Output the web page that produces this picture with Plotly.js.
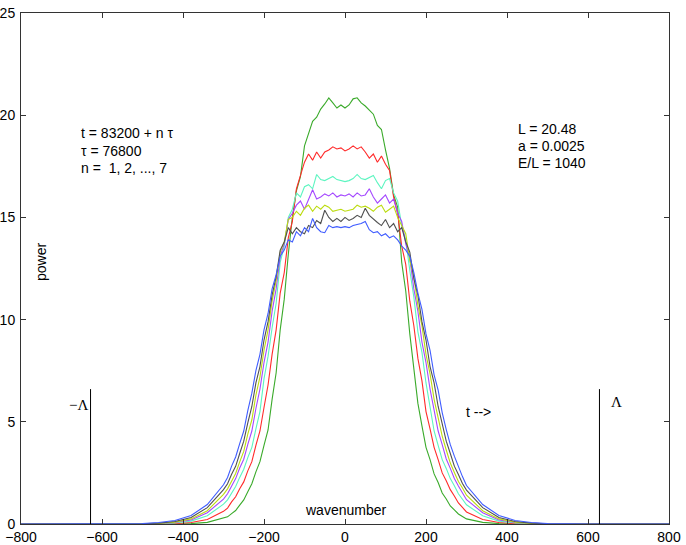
<!DOCTYPE html>
<html>
<head>
<meta charset="utf-8">
<script src="https://cdn.plot.ly/plotly-3.0.1.min.js"></script>
<style>html,body{margin:0;padding:0;background:#fff;}#chart{width:686px;height:545px;}</style>
</head>
<body>
<div id="chart"></div>
<script>
// wavenumber grid
const wavenumber = [-800,-600,-500,-460,-420,-380,-340,
 -300,-290,-280,-270,-260,-250,-240,-230,-220,-210,-200,-190,-180,-170,-160,-150,-140,-130,-120,-110,-100,-90,-80,-70,-60,-50,-40,-30,-20,-10,
 0,
 10,20,30,40,50,60,70,80,90,100,110,120,130,140,150,160,170,180,190,200,210,220,230,240,250,260,270,280,290,300,
 340,380,420,460,500,600,800];

// power spectra, n = 1..7
const power_n1 = [0,0,0,0,0.005,0.02,0.08,
 0.27,0.35,0.51,0.66,0.92,1.18,1.58,1.97,2.55,3.05,3.85,4.6,6.1,7.4,9.5,11.0,13.2,15.0,16.3,17.0,18.5,19.1,19.7,19.9,20.3,20.55,20.85,20.6,20.35,20.5,
 20.35,
 20.5,20.8,20.85,20.6,20.45,20.25,20.05,19.5,19.3,18.3,17.4,16.1,15.5,12.8,11.4,9.3,7.6,5.9,4.8,3.75,3.15,2.45,2.03,1.52,1.22,0.88,0.69,0.49,0.37,0.25,
 0.08,0.02,0.005,0,0,0,0];
const power_n2 = [0,0,0,0.005,0.02,0.07,0.22,
 0.62,0.78,1.08,1.33,1.73,2.06,2.6,3.05,3.85,4.55,5.7,6.8,8.3,9.5,11.3,12.3,14.0,14.8,16.4,17.0,17.7,18.1,17.8,18.2,17.9,18.2,18.3,18.45,18.35,18.4,
 18.25,
 18.35,18.5,18.35,18.45,18.2,17.9,18.1,17.7,18.0,17.6,17.3,16.0,15.2,13.6,12.7,10.9,9.7,8.1,7.0,5.5,4.65,3.75,3.15,2.5,2.12,1.68,1.37,1.03,0.81,0.59,
 0.22,0.07,0.02,0.005,0,0,0];
const power_n3 = [0,0,0,0.015,0.05,0.14,0.4,
 0.97,1.18,1.53,1.83,2.28,2.68,3.25,3.75,4.65,5.5,7.1,8.2,9.6,10.8,12.8,13.6,15.0,15.4,16.2,16.0,16.5,16.6,16.4,17.1,16.85,16.8,16.9,17.0,16.85,16.8,
 16.75,
 16.8,16.9,17.1,16.9,16.85,16.95,17.05,16.7,16.4,16.8,16.9,16.2,15.8,14.6,13.9,12.4,11.1,9.4,8.4,6.9,5.65,4.55,3.85,3.15,2.72,2.22,1.87,1.48,1.21,0.94,
 0.4,0.14,0.05,0.015,0,0,0];
const power_n4 = [0,0,0.008,0.025,0.07,0.2,0.55,
 1.22,1.48,1.88,2.22,2.74,3.17,3.9,4.55,5.65,6.6,7.9,8.9,10.4,11.5,13.1,13.7,14.9,15.2,15.6,15.8,15.4,15.9,16.35,15.9,16.0,16.15,16.05,16.2,16.0,16.1,
 16.05,
 16.15,16.0,16.2,16.05,16.1,16.4,16.0,15.7,15.9,16.1,15.7,15.9,15.2,14.8,13.7,13.0,11.5,10.4,8.9,7.9,6.6,5.65,4.55,3.88,3.18,2.72,2.23,1.86,1.49,1.19,
 0.55,0.2,0.07,0.025,0.008,0,0];
const power_n5 = [0,0,0.01,0.03,0.09,0.25,0.65,
 1.45,1.72,2.13,2.47,3.04,3.55,4.4,5.1,6.3,7.2,8.5,9.5,10.9,11.9,13.3,13.8,14.9,15.0,15.3,15.1,15.45,15.6,15.3,15.55,15.4,15.6,15.5,15.3,15.35,15.4,
 15.3,
 15.35,15.4,15.6,15.5,15.55,15.45,15.3,15.5,15.6,15.25,15.4,15.55,15.0,14.6,14.2,12.9,12.1,10.7,9.7,8.3,7.35,6.1,5.25,4.3,3.62,2.98,2.52,2.08,1.76,1.41,
 0.65,0.25,0.09,0.03,0.01,0,0];
const power_n6 = [0,0,0.015,0.045,0.12,0.32,0.8,
 1.68,1.97,2.43,2.82,3.45,4.05,4.95,5.75,6.9,7.7,9.0,9.9,11.2,12.1,13.4,13.8,14.5,14.2,14.5,14.3,14.2,14.6,14.5,14.85,14.7,15.35,15.0,14.8,14.95,14.8,
 15.0,
 14.85,14.95,15.1,15.0,15.45,15.1,14.9,14.75,14.6,14.9,14.5,14.7,14.3,14.5,13.8,13.3,12.0,11.2,9.9,9.0,7.7,6.9,5.75,4.95,4.05,3.45,2.83,2.42,1.98,1.66,
 0.8,0.32,0.12,0.045,0.015,0,0];
const power_n7 = [0,0,0.025,0.07,0.17,0.42,0.95,
 1.92,2.28,2.83,3.28,3.93,4.55,5.55,6.4,7.5,8.3,9.5,10.3,11.5,12.2,13.1,13.4,13.9,13.8,14.3,14.1,14.5,14.3,14.95,14.5,14.3,14.25,14.6,14.5,14.55,14.5,
 14.55,
 14.5,14.6,14.65,14.7,14.8,14.4,14.25,14.3,14.1,14.2,14.0,14.1,13.9,13.6,13.4,13.1,12.3,11.3,10.5,9.3,8.5,7.3,6.55,5.45,4.62,3.88,3.32,2.78,2.32,1.88,
 0.95,0.42,0.17,0.07,0.025,0,0];

const seriesList = [power_n1, power_n2, power_n3, power_n4, power_n5, power_n6, power_n7];
const seriesNames = ['n = 1','n = 2','n = 3','n = 4','n = 5','n = 6','n = 7'];
const seriesColors = ['#3aaa2a','#ff2a2a','#5cf5c0','#a448ff','#bcdc10','#505050','#3f5cff'];

// cutoff markers at +/- Lambda
const lambdaK = [-628.3, 628.3];
const lambdaTop = 6.6;

const xTicks = [-800,-600,-400,-200,0,200,400,600,800];
const yTicks = [0,5,10,15,20,25];

const sans = 'Liberation Sans, Arial, Helvetica, sans-serif';
const serif = 'Liberation Serif, Times New Roman, serif';

const traces = [];
seriesList.forEach((s, i) => {
  traces.push({
    x: wavenumber, y: s, type: 'scatter', mode: 'lines', name: seriesNames[i],
    line: {color: seriesColors[i], width: 1.1}, hoverinfo: 'skip'
  });
});
lambdaK.forEach(k => {
  traces.push({
    x: [k, k], y: [0, lambdaTop], type: 'scatter', mode: 'lines',
    line: {color: '#000', width: 1}, hoverinfo: 'skip'
  });
});

const ann = (x, y, text, opts) => Object.assign({
  x: x, y: y, xref: 'x', yref: 'y', text: text, showarrow: false,
  xanchor: 'left', yanchor: 'middle', font: {family: sans, size: 14, color: '#000'}
}, opts || {});

const layout = {
  width: 686, height: 545,
  margin: {l: 21, r: 17, t: 13, b: 21, pad: 0},
  paper_bgcolor: '#fff', plot_bgcolor: '#fff',
  showlegend: false,
  font: {family: sans, size: 14, color: '#000'},
  xaxis: {
    range: [-800, 800], tickmode: 'array', tickvals: xTicks,
    ticks: 'inside', ticklen: 5, tickcolor: '#333', mirror: 'ticks',
    showline: true, linecolor: '#333', linewidth: 1,
    showgrid: false, zeroline: false,
    tickfont: {family: sans, size: 14, color: '#000'}
  },
  yaxis: {
    range: [0, 25], tickmode: 'array', tickvals: yTicks,
    ticks: 'inside', ticklen: 5, tickcolor: '#333', mirror: 'ticks',
    showline: true, linecolor: '#333', linewidth: 1,
    showgrid: false, zeroline: false, ticklabelstandoff: 2,
    tickfont: {family: sans, size: 14, color: '#000'}
  },
  annotations: [
    ann(-657, 19.13, 't = 83200 + n τ'),
    ann(-657, 18.25, 'τ = 76800'),
    ann(-657, 17.4, 'n =  1, 2, ..., 7'),
    ann(423, 19.31, 'L = 20.48'),
    ann(423, 18.49, 'a = 0.0025'),
    ann(423, 17.67, 'E/L = 1040'),
    ann(293, 5.49, 't -->'),
    ann(653, 5.98, 'Λ', {font: {family: serif, size: 15, color: '#000'}}),
    ann(-659, 5.82, '−Λ', {xanchor: 'center', font: {family: serif, size: 15, color: '#000'}}),
    ann(0, 0.68, 'wavenumber', {xanchor: 'center'}),
    ann(-749, 12.8, 'power', {xanchor: 'center', textangle: -90})
  ]
};

Plotly.newPlot('chart', traces, layout, {staticPlot: true, displayModeBar: false});
</script>
</body>
</html>
